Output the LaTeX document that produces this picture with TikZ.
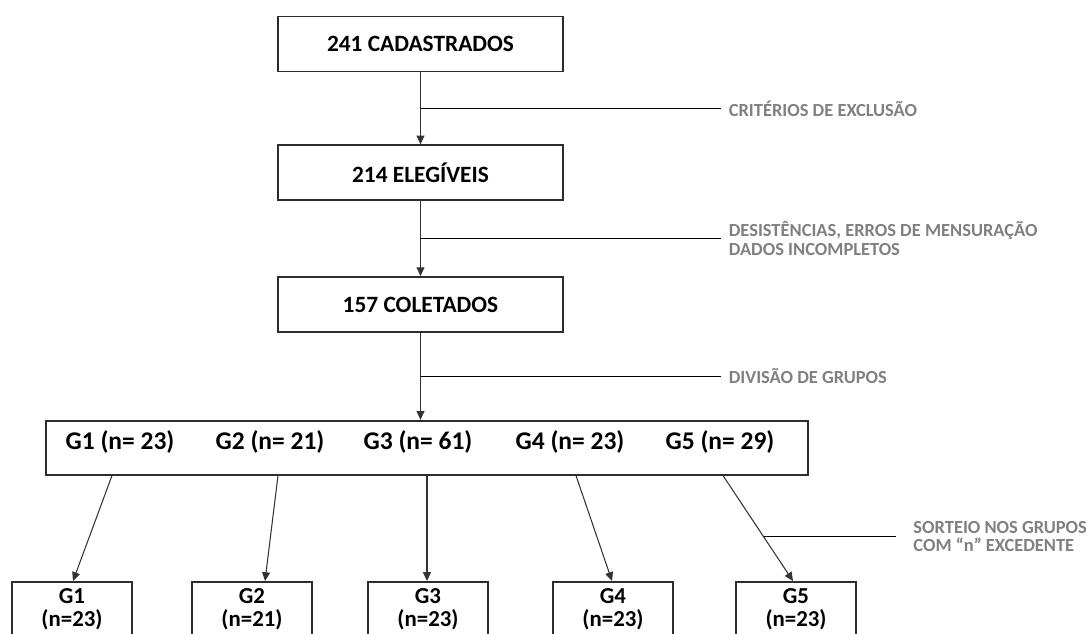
\documentclass[tikz,border=0pt]{standalone}
\usepackage{fontspec}
\setmainfont{Carlito}
\usetikzlibrary{arrows.meta, positioning, calc}
\definecolor{flowline}{RGB}{45, 45, 45}
\definecolor{flownote}{RGB}{128, 128, 128}
\tikzset{
  sbox/.style={
    rectangle, draw=flowline, line width=1pt,
    minimum width=5.7cm, minimum height=1.1cm, inner sep=0pt,
    font=\fontsize{13.3}{16}\selectfont\bfseries
  },
  gbox/.style={
    rectangle, draw=flowline, line width=1pt,
    minimum width=15.24cm, minimum height=1.08cm, inner sep=0pt
  },
  gtext/.style={
    inner sep=0pt, font=\fontsize{14.5}{17}\selectfont\bfseries
  },
  rbox/.style={
    rectangle, draw=flowline, line width=1pt, anchor=north,
    minimum width=2.4cm, align=center, inner ysep=3.5pt,
    font=\fontsize{13}{13.5}\selectfont\bfseries
  },
  note/.style={
    align=left, inner xsep=4pt, inner ysep=0pt, text=flownote,
    font=\fontsize{10.5}{10.5}\selectfont\bfseries
  },
  arr/.style={-{Triangle[length=5pt,width=4.5pt]}, line width=0.6pt, color=black!80},
  sline/.style={line width=0.7pt, color=black},
}

\begin{document}
\begin{tikzpicture}[x=0.02cm, y=-0.02cm]
    \path[use as bounding box, clip] (0,0) rectangle (1092,633);

    \node[sbox] (cad) at (420.5,44) {241 CADASTRADOS};
    \node[sbox, below=1.44cm of cad] (ele) {214 ELEGÍVEIS};
    \node[sbox, below=1.5cm of ele]  (col) {157 COLETADOS};
    \node[gbox, below=1.74cm of col, xshift=0.13cm] (grp) {};

    \foreach \i/\x/\n in {1/120/23, 2/270/21, 3/418/61, 4/570/23, 5/720/29}
      \node[gtext] (g\i) at (\x,442) {G\i\ (n= \n)};
    \foreach \i/\x/\n in {1/72/23, 2/252/21, 3/428/23, 4/613/23, 5/796/23}
      \node[rbox] (b\i) at (\x,581) {G\i\\(n=\n)};

    \draw[arr] (cad) -- (ele);
    \draw[arr] (ele) -- (col);
    \draw[arr] (col) -- (col.south |- grp.north);
    \foreach \i/\ds/\de in {1/-8/1, 2/8/13, 3/9/-1, 4/6/-1, 5/3/-3}
      \draw[arr] ($(g\i |- grp.south)+(\ds,0)$) -- coordinate[pos=0.58] (m\i) ($(b\i.north)+(\de,0)$);

    % side notes
    \coordinate (s1) at ($(cad.south)!0.5!(ele.north)$);
    \coordinate (s2) at ($(ele.south)!0.5!(col.north)$);
    \coordinate (s3) at ($(col.south)!0.5!(col.south |- grp.north)$);
    \node[note, right=6.02cm of s1] (n1) {CRITÉRIOS DE EXCLUSÃO};
    \node[note, right=6.02cm of s2] (n2) {DESISTÊNCIAS, ERROS DE MENSURAÇÃO\\DADOS INCOMPLETOS};
    \node[note, right=6.02cm of s3] (n3) {DIVISÃO DE GRUPOS};
    \node[note, right=2.85cm of m5] (n4) {SORTEIO NOS GRUPOS\\COM “n” EXCEDENTE};
    \foreach \k in {1,2,3}
      \draw[sline] (s\k) -- (n\k.west);
    \draw[sline] (m5) -- ([xshift=-0.2cm]n4.west);
\end{tikzpicture}
\end{document}
